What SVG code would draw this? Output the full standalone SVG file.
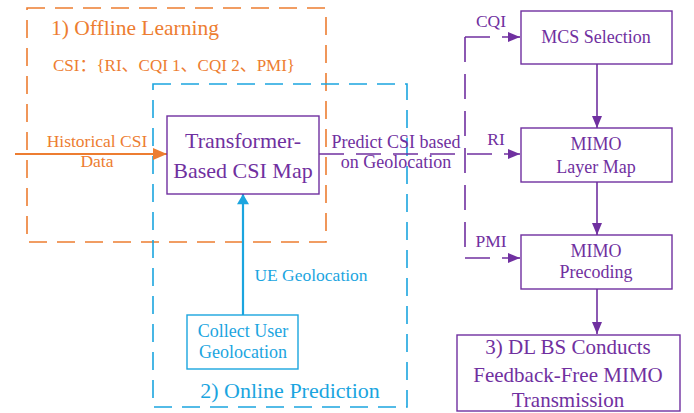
<svg xmlns="http://www.w3.org/2000/svg" width="694" height="413" viewBox="0 0 694 413">
<style>
svg g text{font-family:'Liberation Serif',serif !important;text-anchor:middle}
svg g text.cj{font-family:'Liberation Serif','Noto Sans CJK SC',serif !important}
.o{fill:#ED7D31}.b{fill:#1BA5DF}.p{fill:#7030A0}
.ob{fill:none;stroke:#ED7D31;stroke-width:1.6;stroke-dasharray:18 10}
.bb{fill:none;stroke:#1BA5DF;stroke-width:1.6;stroke-dasharray:18 10}
.pn{fill:#fff;stroke:#7030A0;stroke-width:1.4}
.bn{fill:#fff;stroke:#1BA5DF;stroke-width:1.4}
.pl{fill:none;stroke:#7030A0;stroke-width:1.6}
.pd{fill:none;stroke:#7030A0;stroke-width:1.6;stroke-dasharray:25 12}
</style>
<defs>
<marker id="ap" viewBox="0 0 12 10" refX="12" refY="5" markerWidth="12" markerHeight="10" markerUnits="userSpaceOnUse" orient="auto"><path d="M0,0L12,5L0,10z" fill="#7030A0"/></marker>
<marker id="ao" viewBox="0 0 14 12" refX="14" refY="6" markerWidth="14" markerHeight="12" markerUnits="userSpaceOnUse" orient="auto"><path d="M0,0L14,6L0,12z" fill="#ED7D31"/></marker>
<marker id="ab" viewBox="0 0 12 14" refX="12" refY="7" markerWidth="14" markerHeight="12" markerUnits="userSpaceOnUse" orient="auto"><path d="M0,0L12,7L0,14z" fill="#1BA5DF"/></marker>
</defs>
<g id="offline">
<rect class="ob" x="27" y="8" width="299" height="234"/>
<text class="o" x="135" y="35" font-size="21.5" style="font-family:'Liberation Serif',serif">1) Offline Learning</text>
<text class="o cj" x="174" y="71" font-size="17" style="font-family:'Liberation Serif','Noto Sans CJK SC',serif">CSI：{RI、CQI 1、CQI 2、PMI}</text>
</g>
<g id="online">
<rect class="bb" x="153" y="84" width="254" height="323"/>
<text class="b" x="290" y="398" font-size="22" style="font-family:'Liberation Serif',serif">2) Online Prediction</text>
</g>
<g id="connectors">
<line x1="15" y1="154" x2="167" y2="154" stroke="#ED7D31" stroke-width="2.2" marker-end="url(#ao)"/>
<line x1="243" y1="315" x2="243" y2="194" stroke="#1BA5DF" stroke-width="2.2" marker-end="url(#ab)"/>
<line class="pd" x1="319" y1="154" x2="520" y2="154" marker-end="url(#ap)"/>
<path class="pd" d="M465,37V258"/>
<line class="pd" x1="465" y1="37" x2="520" y2="37" marker-end="url(#ap)"/>
<line class="pd" x1="465" y1="258" x2="520" y2="258" marker-end="url(#ap)"/>
<line class="pl" x1="597" y1="64" x2="597" y2="128" marker-end="url(#ap)"/>
<line class="pl" x1="597" y1="182" x2="597" y2="235" marker-end="url(#ap)"/>
<line class="pl" x1="597" y1="289" x2="597" y2="334" marker-end="url(#ap)"/>
<text class="o" x="97" y="147" font-size="17.5" style="font-family:'Liberation Serif',serif">Historical CSI</text>
<text class="o" x="97" y="167" font-size="17.5" style="font-family:'Liberation Serif',serif">Data</text>
<text class="p" x="396" y="148" font-size="18" style="font-family:'Liberation Serif',serif">Predict CSI based</text>
<text class="p" x="396" y="168" font-size="18" style="font-family:'Liberation Serif',serif">on Geolocation</text>
<text class="p" x="491" y="27" font-size="17.5" style="font-family:'Liberation Serif',serif">CQI</text>
<text class="p" x="496" y="145" font-size="17.5" style="font-family:'Liberation Serif',serif">RI</text>
<text class="p" x="491" y="247" font-size="17.5" style="font-family:'Liberation Serif',serif">PMI</text>
<text class="b" x="311" y="281" font-size="17.5" style="font-family:'Liberation Serif',serif">UE Geolocation</text>
</g>
<g id="transformer">
<rect class="pn" x="167" y="116" width="152" height="78"/>
<text class="p" x="243" y="148" font-size="22" style="font-family:'Liberation Serif',serif">Transformer-</text>
<text class="p" x="243" y="178" font-size="22" style="font-family:'Liberation Serif',serif">Based CSI Map</text>
</g>
<g id="collect">
<rect class="bn" x="187" y="315" width="111" height="54"/>
<text class="b" x="243" y="337" font-size="18" style="font-family:'Liberation Serif',serif">Collect User</text>
<text class="b" x="243" y="358" font-size="18" style="font-family:'Liberation Serif',serif">Geolocation</text>
</g>
<g id="mcs">
<rect class="pn" x="521" y="11" width="151" height="53"/>
<text class="p" x="596" y="43" font-size="18" style="font-family:'Liberation Serif',serif">MCS Selection</text>
</g>
<g id="layermap">
<rect class="pn" x="521" y="128" width="151" height="54"/>
<text class="p" x="596" y="150" font-size="18" style="font-family:'Liberation Serif',serif">MIMO</text>
<text class="p" x="596" y="173" font-size="18" style="font-family:'Liberation Serif',serif">Layer Map</text>
</g>
<g id="precoding">
<rect class="pn" x="521" y="235" width="151" height="54"/>
<text class="p" x="596" y="257" font-size="18" style="font-family:'Liberation Serif',serif">MIMO</text>
<text class="p" x="596" y="278" font-size="18" style="font-family:'Liberation Serif',serif">Precoding</text>
</g>
<g id="dlbs">
<rect class="pn" x="457" y="335" width="223" height="76"/>
<text class="p" x="568" y="354" font-size="21" style="font-family:'Liberation Serif',serif">3) DL BS Conducts</text>
<text class="p" x="568" y="382" font-size="21" style="font-family:'Liberation Serif',serif">Feedback-Free MIMO</text>
<text class="p" x="568" y="407" font-size="21" style="font-family:'Liberation Serif',serif">Transmission</text>
</g>
</svg>
